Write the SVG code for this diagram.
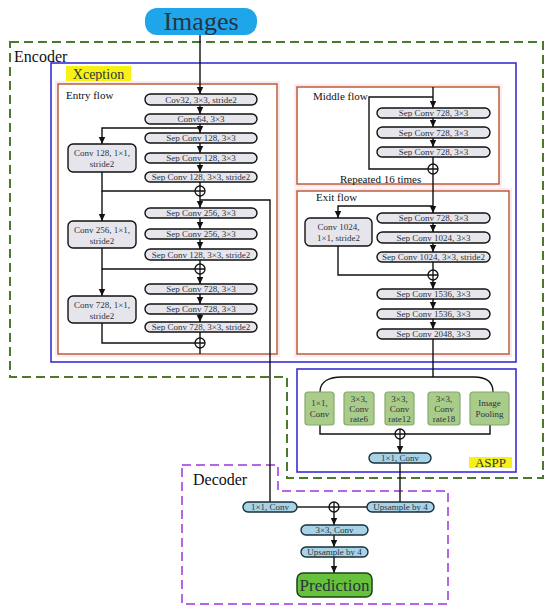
<svg xmlns="http://www.w3.org/2000/svg" width="550" height="613" viewBox="0 0 550 613">
<style>
text{font-family:"Liberation Serif","Times New Roman",serif;fill:#2a3440}
.pill{fill:#e7e5ec;stroke:#111;stroke-width:1.4}
.side{fill:#e7e5ec;stroke:#111;stroke-width:1.4}
.green{fill:#a9cc8a;stroke:#86a86a;stroke-width:1.2}
.blue{fill:#a8d3e6;stroke:#163038;stroke-width:1.4}
.t9{font-size:9px;text-anchor:middle}
.lbl{font-size:11px;fill:#111}
.big{font-size:16px;fill:#111}
.flow{fill:#fff;stroke:#b4562c;stroke-width:1.4}
.halo{fill:#fde9f1}
.c{fill:none;stroke:#111;stroke-width:1.4}
.plus circle{fill:#fff;stroke:#111;stroke-width:1.3}
.plus path{stroke:#111;stroke-width:1.3}
</style>
<defs>
<marker id="ah" markerUnits="userSpaceOnUse" markerWidth="8" markerHeight="8" refX="7" refY="4" orient="auto">
<path d="M0,0.8 L7,4 L0,7.2 z" fill="#111"/>
</marker>
</defs>
<rect width="550" height="613" fill="#fff"/>

<!-- containers -->
<g id="encoder">
<path d="M10,42 H543 V478 H287 V377 H10 Z" fill="none" stroke="#4b7a2e" stroke-width="2" stroke-dasharray="9,5"/>
<text x="14" y="62" class="big">Encoder</text>
</g>
<g id="xception">
<rect x="51" y="63" width="465" height="299" fill="none" stroke="#3b2fd3" stroke-width="1.6"/>
<rect x="66" y="66" width="65" height="15" fill="#f7f214"/>
<text x="98.5" y="78.5" font-size="14" text-anchor="middle" fill="#111">Xception</text>
</g>
<g id="entry-flow">
<rect x="55" y="81" width="225" height="276" class="halo"/>
<rect x="58" y="84" width="219" height="270" class="flow"/>
<text x="66" y="99" class="lbl">Entry flow</text>
</g>
<g id="middle-flow">
<rect x="294" y="84" width="208" height="103" class="halo"/>
<rect x="297" y="87" width="202" height="97" class="flow"/>
<text x="313" y="100" class="lbl">Middle flow</text>
<text x="340" y="183" class="lbl">Repeated 16 times</text>
</g>
<g id="exit-flow">
<rect x="294" y="188" width="218" height="169" class="halo"/>
<rect x="297" y="191" width="212" height="163" class="flow"/>
<text x="316" y="201" class="lbl">Exit flow</text>
</g>
<g id="aspp">
<rect x="297" y="369" width="219" height="103" fill="none" stroke="#3b2fd3" stroke-width="1.6"/>
<rect x="469" y="457" width="43" height="11" fill="#f7f214"/>
<text x="490.5" y="467" font-size="13" text-anchor="middle" fill="#111">ASPP</text>
</g>
<g id="decoder">
<path d="M182,465 H278 V491 H448 V604 H182 Z" fill="none" stroke="#b466e6" stroke-width="2" stroke-dasharray="9,5"/>
<text x="193" y="485" class="big">Decoder</text>
</g>

<!-- connectors -->
<g id="connectors">
<path class="c" d="M200,35 V94" marker-end="url(#ah)"/>
<path class="c" d="M200,105 V114" marker-end="url(#ah)"/>
<path class="c" d="M200,124 V133" marker-end="url(#ah)"/>
<path class="c" d="M200,143 V153" marker-end="url(#ah)"/>
<path class="c" d="M200,163 V172" marker-end="url(#ah)"/>
<path class="c" d="M200,128 H102 V144" marker-end="url(#ah)"/>
<path class="c" d="M102,172 V191 H195"/>
<path class="c" d="M200,182 V186"/>
<path class="c" d="M200,196 V208" marker-end="url(#ah)"/>
<path class="c" d="M200,200 H270 V502"/>
<path class="c" d="M102,191 V221" marker-end="url(#ah)"/>
<path class="c" d="M200,218 V229" marker-end="url(#ah)"/>
<path class="c" d="M200,239 V249" marker-end="url(#ah)"/>
<path class="c" d="M200,260 V264"/>
<path class="c" d="M102,248 V269 H195"/>
<path class="c" d="M102,269 V296" marker-end="url(#ah)"/>
<path class="c" d="M200,274 V284" marker-end="url(#ah)"/>
<path class="c" d="M200,294 V304" marker-end="url(#ah)"/>
<path class="c" d="M200,314 V322" marker-end="url(#ah)"/>
<path class="c" d="M200,332 V338"/>
<path class="c" d="M102,323 V343 H195"/>
<path class="c" d="M200,348 V354"/>

<path class="c" d="M433,87 V108" marker-end="url(#ah)"/>
<path class="c" d="M433,97 H369 V169 H428"/>
<path class="c" d="M433,118 V127" marker-end="url(#ah)"/>
<path class="c" d="M433,138 V147" marker-end="url(#ah)"/>
<path class="c" d="M433,157 V164"/>
<path class="c" d="M433,174 V213" marker-end="url(#ah)"/>
<path class="c" d="M433,206 H338 V218" marker-end="url(#ah)"/>
<path class="c" d="M433,223 V232" marker-end="url(#ah)"/>
<path class="c" d="M433,243 V252" marker-end="url(#ah)"/>
<path class="c" d="M433,262 V270"/>
<path class="c" d="M338,246 V275 H428"/>
<path class="c" d="M433,280 V289" marker-end="url(#ah)"/>
<path class="c" d="M433,299 V309" marker-end="url(#ah)"/>
<path class="c" d="M433,319 V329" marker-end="url(#ah)"/>
<path class="c" d="M433,339 V377"/>
<path class="c" d="M320,392 C320,381 330,377 342,377 H474 C486,377 493,382 493,392"/>

<path class="c" d="M320,425 V434 H395"/>
<path class="c" d="M490,425 V434 H405"/>
<path class="c" d="M400,439 V453" marker-end="url(#ah)"/>
<path class="c" d="M400,463 V502"/>

<path class="c" d="M297,507 H329"/>
<path class="c" d="M367,507 H339"/>
<path class="c" d="M334,512 V525" marker-end="url(#ah)"/>
<path class="c" d="M334,535 V547" marker-end="url(#ah)"/>
<path class="c" d="M334,557 V573" marker-end="url(#ah)"/>
</g>

<!-- plus nodes -->
<g id="add1" class="plus"><circle cx="200" cy="191" r="5"/><path d="M195,191 H205 M200,186 V196"/></g>
<g id="add2" class="plus"><circle cx="200" cy="269" r="5"/><path d="M195,269 H205 M200,264 V274"/></g>
<g id="add3" class="plus"><circle cx="200" cy="343" r="5"/><path d="M195,343 H205 M200,338 V348"/></g>
<g id="add4" class="plus"><circle cx="433" cy="169" r="5"/><path d="M428,169 H438 M433,164 V174"/></g>
<g id="add5" class="plus"><circle cx="433" cy="275" r="5"/><path d="M428,275 H438 M433,270 V280"/></g>
<g id="add6" class="plus"><circle cx="400" cy="434" r="5"/><path d="M395,434 H405 M400,429 V439"/></g>
<g id="add7" class="plus"><circle cx="334" cy="507" r="5"/><path d="M329,507 H339 M334,502 V512"/></g>

<!-- Images -->
<g id="images">
<rect x="145" y="8" width="112" height="27" rx="12" fill="#1fa6ea"/>
<text x="201" y="30" font-size="26" text-anchor="middle" fill="#1b2a30">Images</text>
</g>

<!-- entry flow nodes -->
<g id="e1"><rect x="145" y="94" width="112" height="11" rx="5.5" class="pill"/><text x="201" y="102.5" class="t9">Cov32, 3×3, stride2</text></g>
<g id="e2"><rect x="145" y="114" width="112" height="10" rx="5" class="pill"/><text x="201" y="122" class="t9">Conv64, 3×3</text></g>
<g id="e3"><rect x="145" y="133" width="112" height="10" rx="5" class="pill"/><text x="201" y="141" class="t9">Sep Conv 128, 3×3</text></g>
<g id="e4"><rect x="145" y="153" width="112" height="10" rx="5" class="pill"/><text x="201" y="161" class="t9">Sep Conv 128, 3×3</text></g>
<g id="e5"><rect x="145" y="172" width="112" height="10" rx="5" class="pill"/><text x="201" y="180" class="t9">Sep Conv 128, 3×3, stride2</text></g>
<g id="e6"><rect x="145" y="208" width="112" height="10" rx="5" class="pill"/><text x="201" y="216" class="t9">Sep Conv 256, 3×3</text></g>
<g id="e7"><rect x="145" y="229" width="112" height="10" rx="5" class="pill"/><text x="201" y="237" class="t9">Sep Conv 256, 3×3</text></g>
<g id="e8"><rect x="145" y="249" width="112" height="11" rx="5.5" class="pill"/><text x="201" y="257.5" class="t9">Sep Conv 128, 3×3, stride2</text></g>
<g id="e9"><rect x="145" y="284" width="112" height="10" rx="5" class="pill"/><text x="201" y="292" class="t9">Sep Conv 728, 3×3</text></g>
<g id="e10"><rect x="145" y="304" width="112" height="10" rx="5" class="pill"/><text x="201" y="312" class="t9">Sep Conv 728, 3×3</text></g>
<g id="e11"><rect x="145" y="322" width="112" height="10" rx="5" class="pill"/><text x="201" y="330" class="t9">Sep Conv 728, 3×3, stride2</text></g>
<g id="s1"><rect x="68" y="144" width="68" height="28" rx="5" class="side"/><text x="102" y="156" class="t9">Conv 128, 1×1,</text><text x="102" y="167" class="t9">stride2</text></g>
<g id="s2"><rect x="68" y="221" width="68" height="27" rx="5" class="side"/><text x="102" y="232.5" class="t9">Conv 256, 1×1,</text><text x="102" y="243.5" class="t9">stride2</text></g>
<g id="s3"><rect x="68" y="296" width="68" height="27" rx="5" class="side"/><text x="102" y="307.5" class="t9">Conv 728, 1×1,</text><text x="102" y="318.5" class="t9">stride2</text></g>

<!-- middle flow nodes -->
<g id="m1"><rect x="377" y="108" width="113" height="10" rx="5" class="pill"/><text x="433.5" y="116" class="t9">Sep Conv 728, 3×3</text></g>
<g id="m2"><rect x="377" y="127" width="113" height="11" rx="5.5" class="pill"/><text x="433.5" y="135.5" class="t9">Sep Conv 728, 3×3</text></g>
<g id="m3"><rect x="377" y="147" width="113" height="10" rx="5" class="pill"/><text x="433.5" y="155" class="t9">Sep Conv 728, 3×3</text></g>

<!-- exit flow nodes -->
<g id="x1"><rect x="377" y="213" width="113" height="10" rx="5" class="pill"/><text x="433.5" y="221" class="t9">Sep Conv 728, 3×3</text></g>
<g id="x2"><rect x="377" y="232" width="113" height="11" rx="5.5" class="pill"/><text x="433.5" y="240.5" class="t9">Sep Conv 1024, 3×3</text></g>
<g id="x3"><rect x="377" y="252" width="113" height="10" rx="5" class="pill"/><text x="433.5" y="260" class="t9">Sep Conv 1024, 3×3, stride2</text></g>
<g id="x4"><rect x="377" y="289" width="113" height="10" rx="5" class="pill"/><text x="433.5" y="297" class="t9">Sep Conv 1536, 3×3</text></g>
<g id="x5"><rect x="377" y="309" width="113" height="10" rx="5" class="pill"/><text x="433.5" y="317" class="t9">Sep Conv 1536, 3×3</text></g>
<g id="x6"><rect x="377" y="329" width="113" height="10" rx="5" class="pill"/><text x="433.5" y="337" class="t9">Sep Conv 2048, 3×3</text></g>
<g id="xs"><rect x="305" y="218" width="67" height="28" rx="5" class="side"/><text x="338.5" y="230" class="t9">Conv 1024,</text><text x="338.5" y="241" class="t9">1×1, stride2</text></g>

<!-- ASPP nodes -->
<g id="a1"><rect x="305" y="392" width="29" height="33" rx="3" class="green"/><text x="319.5" y="406" class="t9">1×1,</text><text x="319.5" y="417" class="t9">Conv</text></g>
<g id="a2"><rect x="344" y="392" width="30" height="33" rx="3" class="green"/><text x="359" y="402" class="t9">3×3,</text><text x="359" y="412" class="t9">Conv</text><text x="359" y="422" class="t9">rate6</text></g>
<g id="a3"><rect x="385" y="392" width="29" height="33" rx="3" class="green"/><text x="399.5" y="402" class="t9">3×3,</text><text x="399.5" y="412" class="t9">Conv</text><text x="399.5" y="422" class="t9">rate12</text></g>
<g id="a4"><rect x="428" y="392" width="32" height="33" rx="3" class="green"/><text x="444" y="402" class="t9">3×3,</text><text x="444" y="412" class="t9">Conv</text><text x="444" y="422" class="t9">rate18</text></g>
<g id="a5"><rect x="470" y="392" width="39" height="33" rx="3" class="green"/><text x="489.5" y="406" class="t9">Image</text><text x="489.5" y="417" class="t9">Pooling</text></g>
<g id="a6"><rect x="369" y="453" width="62" height="10" rx="5" class="blue"/><text x="400" y="461" class="t9">1×1, Conv</text></g>

<!-- decoder nodes -->
<g id="d1"><rect x="243" y="502" width="54" height="10" rx="5" class="blue"/><text x="270" y="510" class="t9">1×1, Conv</text></g>
<g id="d2"><rect x="367" y="502" width="67" height="10" rx="5" class="blue"/><text x="400.5" y="510" class="t9">Upsample by 4</text></g>
<g id="d3"><rect x="301" y="525" width="67" height="10" rx="5" class="blue"/><text x="334.5" y="533" class="t9">3×3, Conv</text></g>
<g id="d4"><rect x="301" y="547" width="67" height="10" rx="5" class="blue"/><text x="334.5" y="555" class="t9">Upsample by 4</text></g>
<g id="pred"><rect x="297" y="573" width="75" height="24" rx="6" fill="#66c23a" stroke="#20401a" stroke-width="1.5"/><text x="334.5" y="590.5" font-size="17" text-anchor="middle" fill="#1a2a1a">Prediction</text></g>
</svg>
